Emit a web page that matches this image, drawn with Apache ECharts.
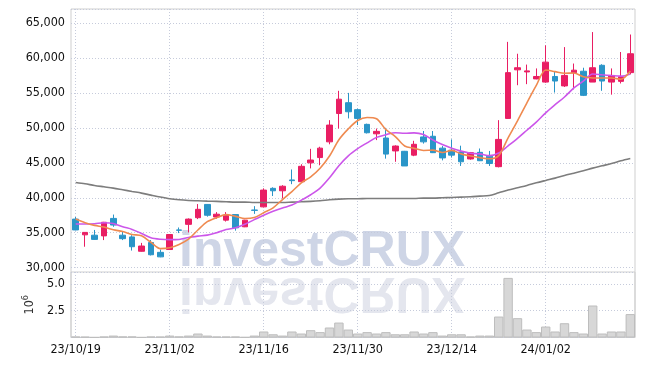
<!DOCTYPE html>
<html>
<head>
<meta charset="utf-8">
<script src="https://cdn.jsdelivr.net/npm/echarts@6/dist/echarts.min.js"></script>
<style>html,body{margin:0;padding:0;background:#fff;}#c{width:645px;height:366px;}</style>
</head>
<body>
<div id="c"></div>
<script>
const dates = ['23/10/19','23/10/20','23/10/23','23/10/24','23/10/25','23/10/26','23/10/27','23/10/30','23/10/31','23/11/01',
'23/11/02','23/11/03','23/11/06','23/11/07','23/11/08','23/11/09','23/11/10','23/11/13','23/11/14','23/11/15',
'23/11/16','23/11/17','23/11/20','23/11/21','23/11/22','23/11/23','23/11/24','23/11/27','23/11/28','23/11/29',
'23/11/30','23/12/01','23/12/04','23/12/05','23/12/06','23/12/07','23/12/08','23/12/11','23/12/12','23/12/13',
'23/12/14','23/12/15','23/12/18','23/12/19','23/12/20','23/12/21','23/12/22','23/12/26','23/12/27','23/12/28',
'24/01/02','24/01/03','24/01/04','24/01/05','24/01/08','24/01/09','24/01/10','24/01/11','24/01/12','24/01/15'];

const opens = [36950,34700,34650,34550,37050,34650,34400,32350,33600,32200,
32600,35400,36200,37150,39050,37250,36800,37600,35850,38250,
38700,41350,41000,42550,42300,45000,45750,48000,52050,53600,
52600,50500,49150,48550,46700,46650,46100,48700,48800,47100,
46800,46550,45550,46500,45950,44450,51350,58300,58000,57000,
56550,57350,56000,57900,58100,56550,58950,56550,56650,57900];

const closes = [35400,35050,34050,36500,36100,34150,33000,33100,31850,31550,
34750,35350,36950,38350,37500,37650,37500,35700,36800,38200,
41100,41000,41650,42450,44500,45400,47100,50400,54100,52300,
51350,49300,49500,46250,47400,44550,47650,48000,46450,45700,
46100,45150,46450,45300,44900,48350,57900,58600,58150,57350,
59400,56700,57500,58250,54650,58600,56700,57500,57300,60600];

const lows = [35350,33000,34000,33950,35850,33950,32450,32300,31750,31500,
32550,34950,35050,36950,37300,37000,36600,35300,35800,37700,
38650,40250,39900,41950,42150,44200,44650,47650,49900,51350,
50400,49200,48250,45600,45150,44550,45950,47750,46400,45350,
45750,44550,45450,45250,44550,44350,51300,56100,56250,56950,
56450,55050,55850,55500,54550,56550,55300,54750,56350,57650];

const highs = [37250,35100,35400,36550,37600,35250,34650,33550,33950,32600,
34800,35750,37050,39100,39100,37950,37950,37650,36850,38800,
41350,41500,41800,44050,44800,47000,47300,51100,55300,55000,
52750,50600,49900,50000,47500,46700,48150,49550,49550,47400,
48350,47450,46550,47050,46700,51100,62300,60600,59050,58500,
61800,58000,61550,59200,58600,63700,59100,58500,60850,63350];

const ma5 = [36950,36430,36050,35810,35420,35170,34760,34570,33640,32730,
32850,33320,34090,35390,36580,37160,37590,37340,37030,37170,
37860,38560,39750,40880,42140,43000,44220,45970,48300,49860,
51050,51490,51310,49740,48760,47400,47070,46770,46810,46470,
46780,46280,45970,45740,45580,46030,48580,51010,53580,56070,
58280,58040,57820,57840,57300,57140,57140,57140,56950,58140];

const ma10 = [36240,36240,36280,36430,36330,35860,35480,34900,34290,34075,
34010,34040,34330,34515,34655,35005,35455,35715,36210,36875,
37510,38075,38545,38955,39655,40430,41390,42860,44590,46000,
47025,47855,48640,49020,49310,49225,49280,49040,48275,47615,
47090,46675,46370,46275,46025,46405,47430,48490,49660,50825,
52155,53310,54415,55710,56685,57710,57590,57480,57395,57720];

const ma60 = [42190,42000,41760,41570,41380,41140,40900,40670,40380,40100,
39860,39710,39620,39570,39520,39480,39430,39380,39380,39330,
39330,39330,39330,39380,39430,39480,39570,39710,39810,39860,
39860,39900,39900,39900,39900,39900,39900,39950,39950,40000,
40050,40100,40140,40240,40330,40710,41100,41430,41760,42140,
42480,42810,43190,43520,43860,44240,44570,44900,45290,45620];

const volumes = [90000,70000,20000,90000,180000,100000,100000,20000,90000,80000,
180000,100000,180000,370000,180000,90000,90000,90000,30000,180000,
560000,300000,180000,560000,370000,680000,500000,930000,1390000,740000,
370000,500000,370000,500000,300000,300000,560000,370000,500000,180000,
300000,300000,90000,180000,180000,1950000,5550000,1800000,740000,500000,
1020000,560000,1330000,500000,370000,2980000,370000,560000,560000,2180000];

const priceTicks = [30000, 67000, 5000];
const volTicks = [0, 6100000, 2500000];

const FONT = "'DejaVu Sans Condensed','Liberation Sans Narrow',sans-serif";
const gridLine = {show: true, lineStyle: {color: '#c6cbdb', type: [1, 2], width: 1}};
const candleData = dates.map((d, i) => [opens[i], closes[i], lows[i], highs[i]]);

const chart = echarts.init(document.getElementById('c'), null, {renderer: 'canvas'});
chart.setOption({
  animation: false,
  backgroundColor: '#fff',
  graphic: [
    {type: 'text', z: -10, x: 179, y: 252, style: {text: 'investCRUX', fill: '#ced5e6',
      font: "bold 50px 'Liberation Sans', Arial, sans-serif", verticalAlign: 'middle', align: 'left'}},
    {type: 'text', z: -10, x: 179, y: 292, scaleY: -1, style: {text: 'investCRUX', fill: '#e4e6ee',
      font: "bold 50px 'Liberation Sans', Arial, sans-serif", verticalAlign: 'middle', align: 'left'}}
  ],
  grid: [
    {left: 71, right: 10, top: 9, bottom: 98.3, show: false},
    {left: 71, right: 10, top: 272, bottom: 28.5, show: true, borderColor: '#cfcfcf', backgroundColor: 'transparent'},
    {left: 71, right: 10, top: 9, bottom: 28.5, show: true, borderColor: '#cfcfcf', backgroundColor: 'transparent'}
  ],
  xAxis: [
    {type: 'category', gridIndex: 0, data: dates, boundaryGap: true,
      axisLine: {show: false}, axisTick: {show: false}, axisLabel: {show: false},
      splitLine: Object.assign({interval: 9, alignWithLabel: true}, gridLine)},
    {type: 'category', gridIndex: 1, data: dates, boundaryGap: true,
      axisLine: {show: false}, axisTick: {show: false},
      axisLabel: {interval: 9, color: '#111', fontFamily: FONT, fontSize: 12.5, margin: 6},
      splitLine: Object.assign({interval: 9, alignWithLabel: true}, gridLine)}
  ],
  yAxis: [
    {type: 'value', gridIndex: 0, min: priceTicks[0], max: priceTicks[1], interval: priceTicks[2],
      axisLine: {show: false}, axisTick: {show: false},
      axisLabel: {color: '#111', fontFamily: FONT, fontSize: 12.5, margin: 6,
        formatter: v => (v % 5000 === 0) ? v.toLocaleString('en-US') : ''},
      splitLine: gridLine},
    {type: 'value', gridIndex: 1, min: volTicks[0], max: volTicks[1], interval: volTicks[2],
      axisLine: {show: false}, axisTick: {show: false},
      axisLabel: {color: '#111', fontFamily: FONT, fontSize: 12.5, margin: 6,
        formatter: v => (v === 0 || v % 2500000 !== 0) ? '' : (v / 1e6).toFixed(1)},
      splitLine: gridLine,
      name: '{a|10}{b|6}', nameLocation: 'middle', nameGap: 27, nameRotate: 90,
      nameTextStyle: {rich: {
        a: {fontFamily: FONT, fontSize: 12.5, color: '#333', verticalAlign: 'bottom'},
        b: {fontFamily: FONT, fontSize: 9, color: '#333', verticalAlign: 'bottom', padding: [0, 0, 6, 0]}
      }}}
  ],
  series: [
    {type: 'candlestick', xAxisIndex: 0, yAxisIndex: 0, data: candleData, barWidth: 6,
      itemStyle: {color: '#e91e63', color0: '#2a95c8', borderColor: '#e91e63', borderColor0: '#2a95c8', borderWidth: 1}},
    {type: 'line', xAxisIndex: 0, yAxisIndex: 0, data: ma60, symbol: 'none', smooth: 0.3,
      lineStyle: {color: '#7d7d7d', width: 1.6}},
    {type: 'line', xAxisIndex: 0, yAxisIndex: 0, data: ma10, symbol: 'none', smooth: 0.3,
      lineStyle: {color: '#cc56ea', width: 1.6}},
    {type: 'line', xAxisIndex: 0, yAxisIndex: 0, data: ma5, symbol: 'none', smooth: 0.3,
      lineStyle: {color: '#ef8a50', width: 1.6}},
    {type: 'bar', xAxisIndex: 1, yAxisIndex: 1, data: volumes, barWidth: '100%',
      itemStyle: {color: '#d7d7d7', borderColor: '#bdbdbd', borderWidth: 1}}
  ]
});
</script>
</body>
</html>
